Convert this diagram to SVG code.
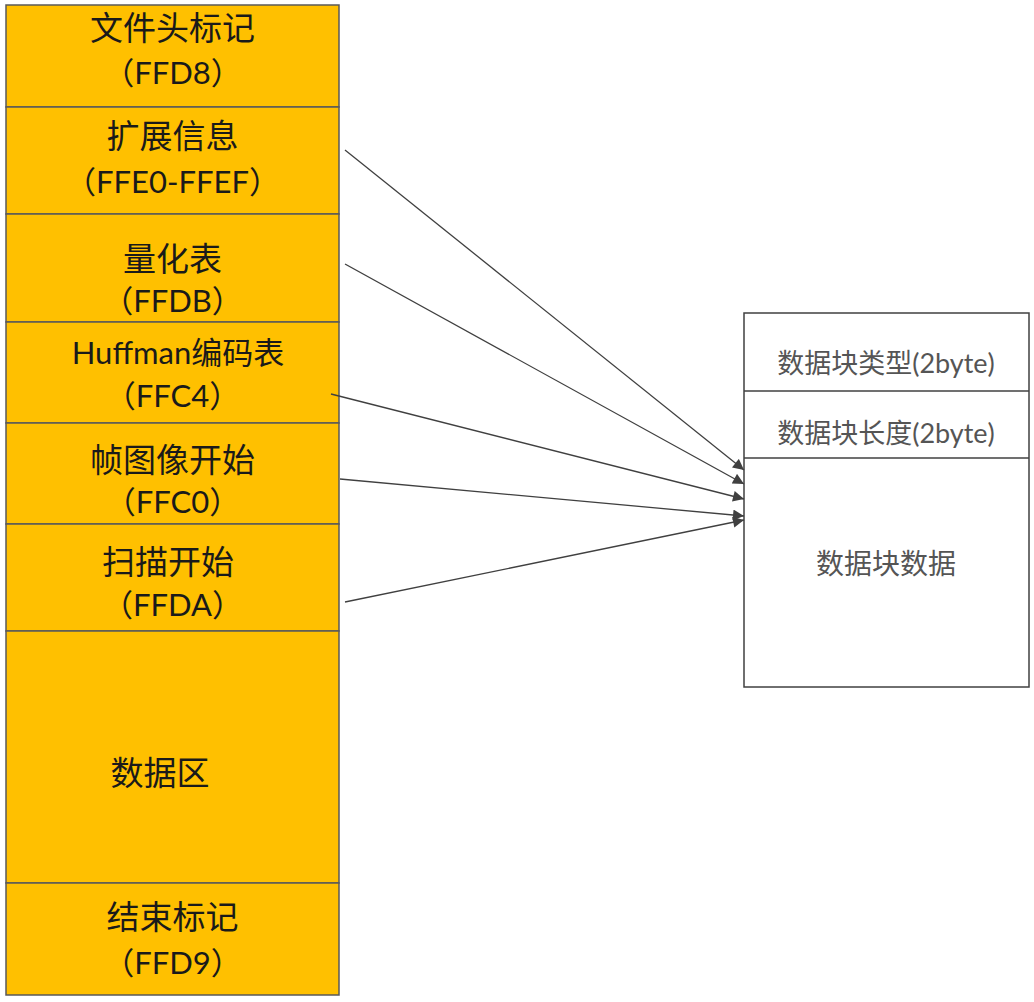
<svg xmlns="http://www.w3.org/2000/svg" width="1034" height="1002" viewBox="0 0 1034 1002">
<style>
.seg{fill:#FFC000;stroke:#595959;stroke-width:1.5}
.box{fill:#ffffff;stroke:#404040;stroke-width:1.5}
.t{font-family:Lato,"Noto Sans CJK SC",sans-serif;font-size:31px;fill:#1a1a1a;text-anchor:middle;dominant-baseline:central}
.t.z{font-size:33px}
.r{font-family:Lato,"Noto Sans CJK SC",sans-serif;font-size:27px;fill:#555555;text-anchor:middle;dominant-baseline:central}
.c{stroke:#404040;stroke-width:1.3;fill:none;marker-end:url(#ah)}
</style>
<defs>
<marker id="ah" viewBox="0 0 10 10" refX="10" refY="5" markerWidth="13" markerHeight="11" markerUnits="userSpaceOnUse" orient="auto">
<path d="M0,0 L10,5 L0,10 z" fill="#404040"/>
</marker>
</defs>
<rect width="1034" height="1002" fill="#ffffff"/>
<g id="n1"><rect class="seg" x="6" y="5" width="333" height="102"/><text class="t z" x="172.5" y="27">文件头标记</text><text class="t" x="172.5" y="72">（FFD8）</text></g>
<g id="n2"><rect class="seg" x="6" y="107" width="333" height="107"/><text class="t z" x="172.5" y="135">扩展信息</text><text class="t" x="172.5" y="181">（FFE0-FFEF）</text></g>
<g id="n3"><rect class="seg" x="6" y="214" width="333" height="108"/><text class="t z" x="172.5" y="258">量化表</text><text class="t" x="172.5" y="300">（FFDB）</text></g>
<g id="n4"><rect class="seg" x="6" y="322" width="333" height="101"/><text class="t" x="178" y="352">Huffman编码表</text><text class="t" x="172.5" y="395">（FFC4）</text></g>
<g id="n5"><rect class="seg" x="6" y="423" width="333" height="101"/><text class="t z" x="172.5" y="459">帧图像开始</text><text class="t" x="172.5" y="501">（FFC0）</text></g>
<g id="n6"><rect class="seg" x="6" y="524" width="333" height="107"/><text class="t z" x="168" y="561">扫描开始</text><text class="t" x="172.5" y="604">（FFDA）</text></g>
<g id="n7"><rect class="seg" x="6" y="631" width="333" height="252"/><text class="t z" x="160" y="772">数据区</text></g>
<g id="n8"><rect class="seg" x="6" y="883" width="333" height="112"/><text class="t z" x="172.5" y="916">结束标记</text><text class="t" x="172.5" y="962">（FFD9）</text></g>
<g id="block">
<rect class="box" x="744" y="313" width="285" height="374"/>
<line x1="744" y1="391" x2="1029" y2="391" stroke="#404040" stroke-width="1.5"/>
<line x1="744" y1="458" x2="1029" y2="458" stroke="#404040" stroke-width="1.5"/>
<text class="r" x="886" y="362">数据块类型(2byte)</text>
<text class="r" x="886" y="432">数据块长度(2byte)</text>
<text class="r" x="886" y="563" style="font-size:28px">数据块数据</text>
</g>
<g id="connectors">
<line class="c" x1="345" y1="150" x2="744" y2="470"/>
<line class="c" x1="345" y1="264" x2="744" y2="484"/>
<line class="c" x1="331" y1="394" x2="744" y2="499"/>
<line class="c" x1="340" y1="479" x2="744" y2="516"/>
<line class="c" x1="345" y1="602" x2="744" y2="520"/>
</g>
</svg>
